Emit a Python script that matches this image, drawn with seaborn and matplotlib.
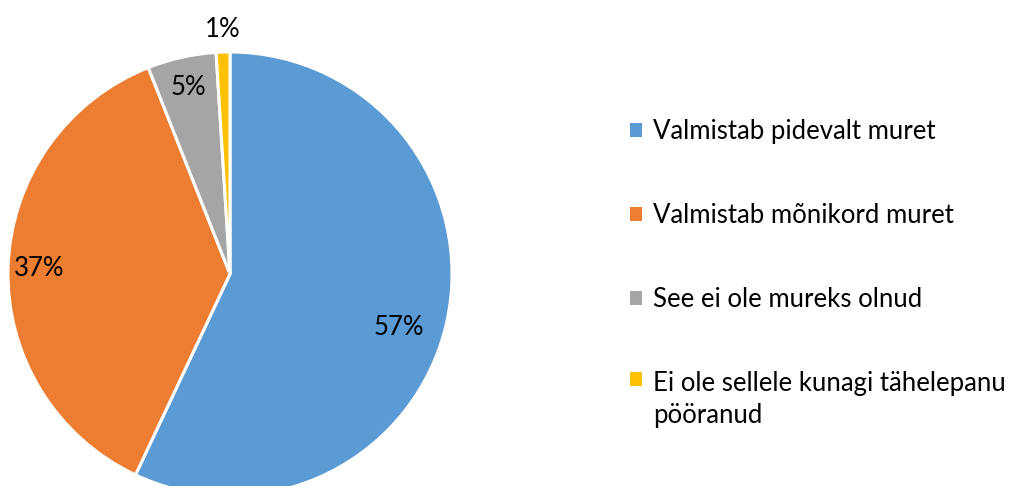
import numpy as np
import matplotlib
matplotlib.use("Agg")
import matplotlib.pyplot as plt
import seaborn as sns
from matplotlib.patches import Patch

# data
categories = ["Valmistab pidevalt muret", "Valmistab mõnikord muret",
              "See ei ole mureks olnud", "Ei ole sellele kunagi tähelepanu\npööranud"]
shares = [57, 37, 5, 1]
pct_labels = ["57%", "37%", "5%", "1%"]
colors = sns.color_palette(["#5B9BD5", "#ED7D31", "#A5A5A5", "#FFC000"])

sns.set_theme(style="white")
plt.rcParams['font.family'] = ['Lato', 'DejaVu Sans']

fig = plt.figure(figsize=(10.10, 4.86), dpi=100)
W, H = 1010, 486
# pie axes placed in pixels: center (230, 274), radius 222
cx, cy, r = 230, 274, 222
ax = fig.add_axes([(cx - r) / W, (H - cy - r) / H, 2 * r / W, 2 * r / H])

wedges, _ = ax.pie(shares, colors=colors, startangle=90, counterclock=False,
                   radius=1.0, wedgeprops=dict(edgecolor="white", linewidth=2.2))
ax.set_xlim(-1, 1)
ax.set_ylim(-1, 1)
ax.set_aspect("equal")
ax.axis("off")

# label radii and small angle nudges (Excel "best fit" style)
label_r = [0.80, 0.86, 0.86, 1.10]
label_nudge = [-5, 0, 0, 0]
for w, txt, lr, nd in zip(wedges, pct_labels, label_r, label_nudge):
    mid = np.deg2rad((w.theta1 + w.theta2) / 2 + nd)
    ax.text(lr * np.cos(mid), lr * np.sin(mid), txt, ha="center", va="center",
            fontsize=18.5, color="black", clip_on=False)

fs = 18.5
handles = [Patch(facecolor=c, edgecolor="none") for c in colors]
leg = fig.legend(handles, categories, loc="upper left", bbox_to_anchor=(630 / W, 1 - 119 / H),
                 frameon=False, fontsize=fs, labelcolor="black", handlelength=0.45,
                 handleheight=0.45, handletextpad=0.45, labelspacing=2.3,
                 borderpad=0, borderaxespad=0)
for t in leg.get_texts():
    t.set_linespacing(1.35)
# put the marker of the two-line entry next to its first line, as Excel does
last = leg.legend_handles[-1]
last.set_y(last.get_y() + fs * 1.35 * 0.62)

fig.savefig("out.png", dpi=100)
